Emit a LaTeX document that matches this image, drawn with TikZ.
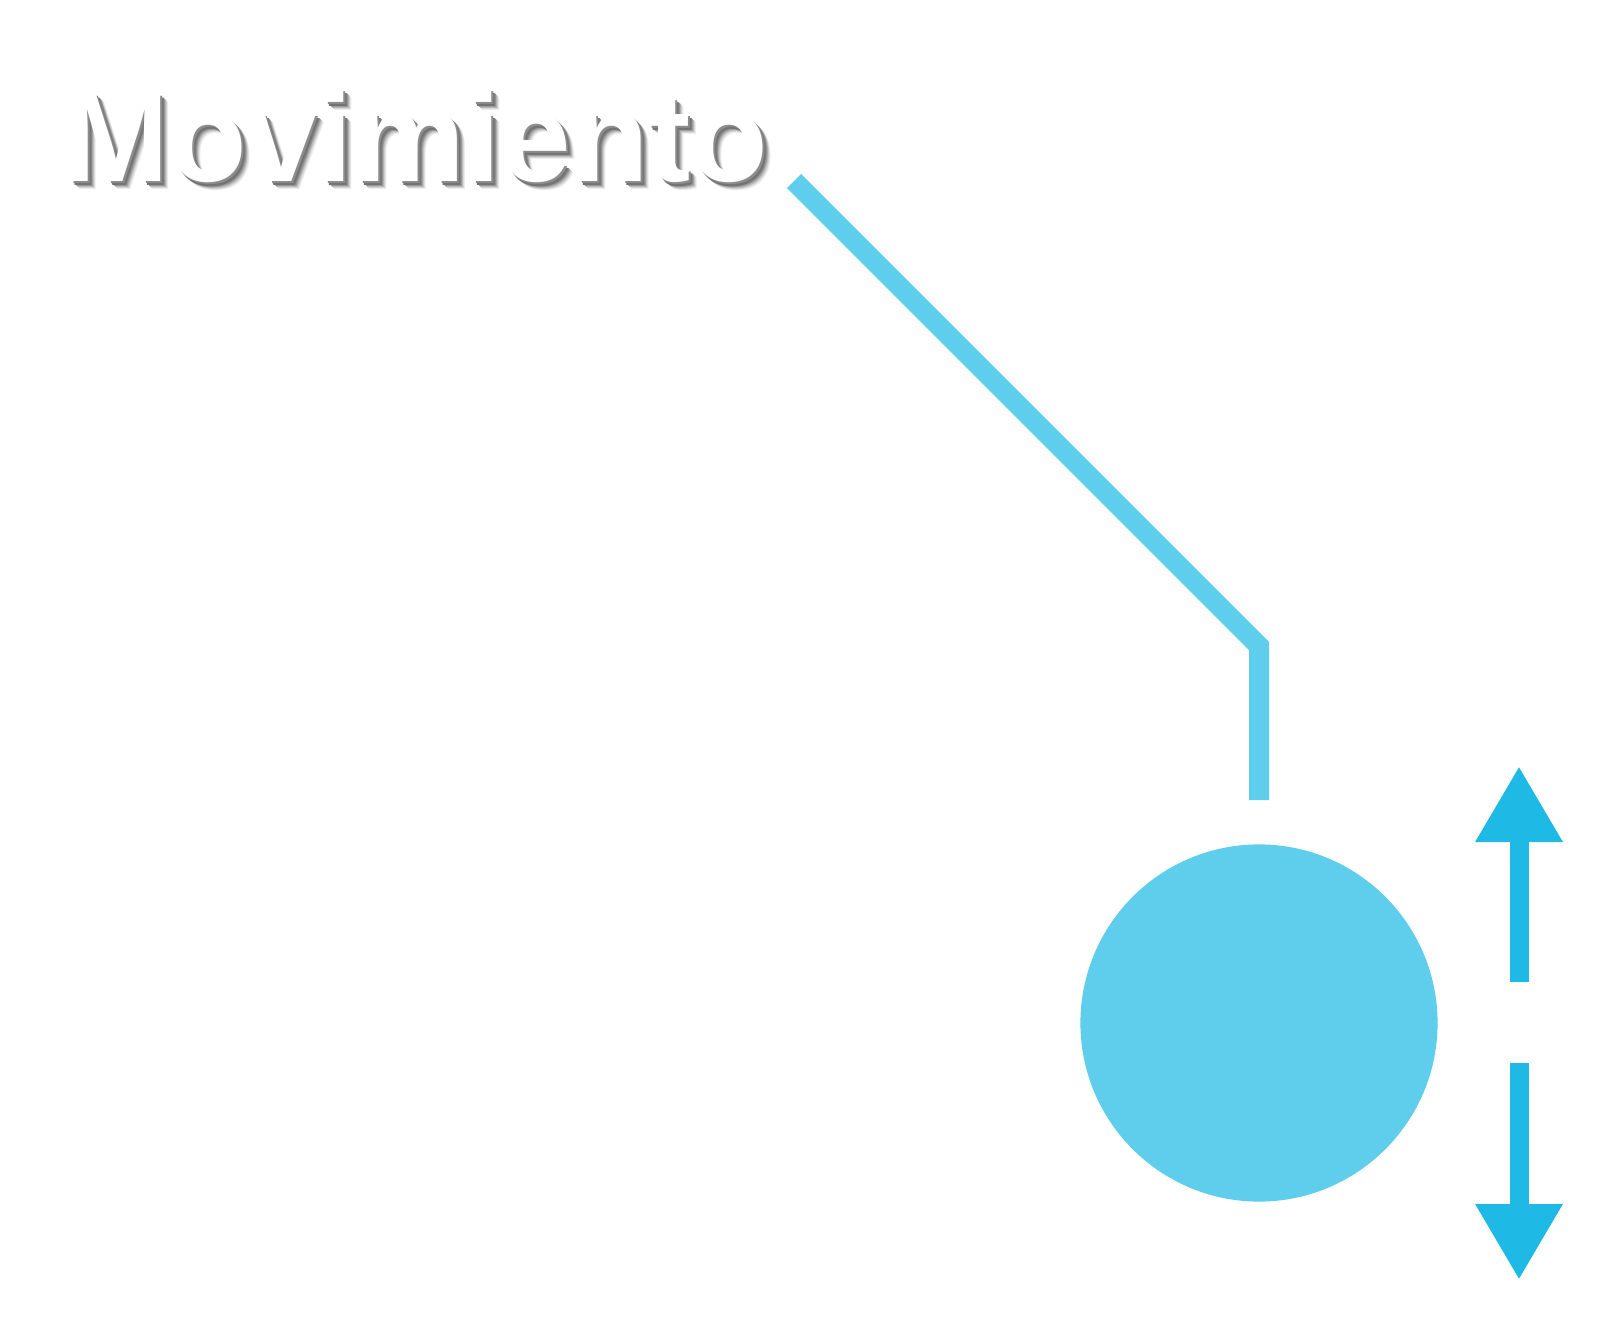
\documentclass[tikz,border=0pt]{standalone}
\usepackage{fontspec}
\setmainfont{Liberation Sans}
\usetikzlibrary{arrows.meta}
\definecolor{rodblue}{RGB}{95,205,236}
\definecolor{arrowblue}{RGB}{30,186,229}
\tikzset{
 rod/.style={line width=10pt, rodblue, line join=miter},
 movearrow/.style={line width=9.5pt, arrowblue, -{Triangle[width=41pt, length=38pt]}},
 titletext/.style={font=\fontsize{63.4}{70}\selectfont\bfseries, inner sep=0pt, anchor=base west}
}
\begin{document}
\begin{tikzpicture}[x=0.5pt, y=-0.5pt]
 \useasboundingbox (0,0) rectangle (1619,1327);
 \foreach \d/\g in {8/8, 7/16, 6/28, 5/40, 4/50, 3/55, 2/45}
  \node[titletext, text=black!\g] at (63.5+\d,182+\d) {Movimiento};
 \node[titletext, text=white] (title) at (63.5,182) {Movimiento};
 \coordinate (pivot) at (794,181);
 \coordinate (bend) at (1259,646);
 \coordinate (rodend) at (1259,800);
 \draw[rod] (pivot) -- (bend) -- (rodend);
 \node[circle, fill=rodblue, minimum size=178.6pt, inner sep=0pt] (bob) at (1259,1023) {};
 \coordinate (upbase) at (1519,982);
 \coordinate (uptip) at (1519,766);
 \coordinate (downbase) at (1519,1063);
 \coordinate (downtip) at (1519,1280);
 \draw[movearrow] (upbase) -- (uptip);
 \draw[movearrow] (downbase) -- (downtip);
\end{tikzpicture}
\end{document}
